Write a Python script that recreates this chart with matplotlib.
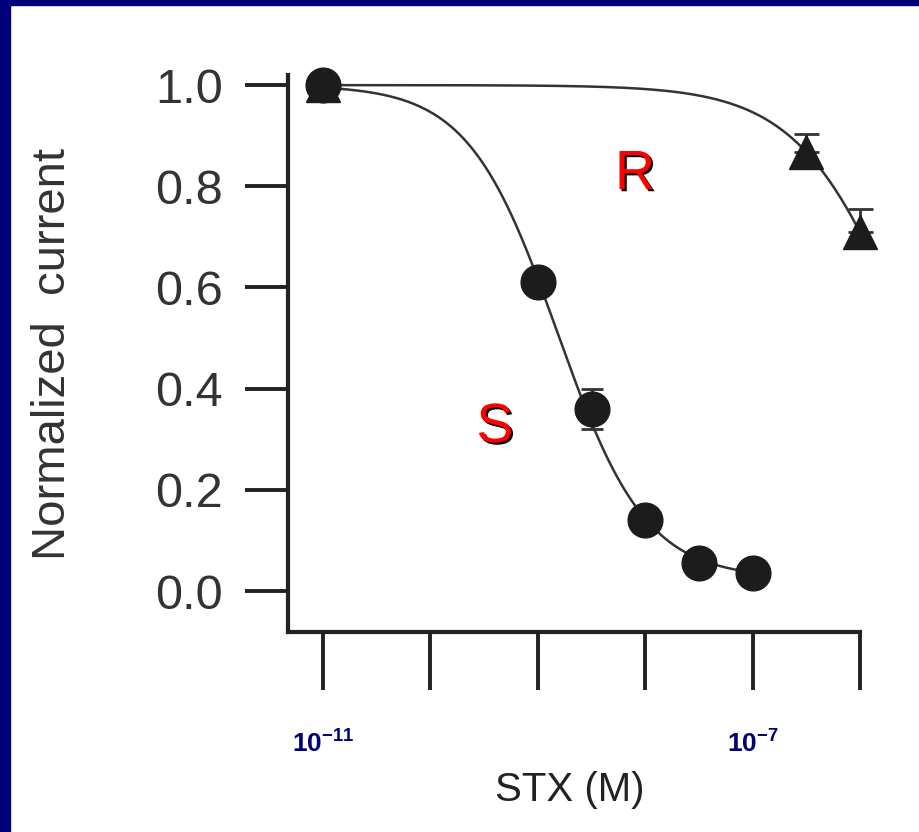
import numpy as np
import matplotlib
matplotlib.use("Agg")
import matplotlib.pyplot as plt
import matplotlib.patheffects as pe
from matplotlib.patches import Rectangle

plt.rcParams["font.family"] = ["Liberation Sans", "DejaVu Sans"]
plt.rcParams["mathtext.fontset"] = "custom"
plt.rcParams["mathtext.rm"] = "Liberation Sans"
plt.rcParams["mathtext.bf"] = "Liberation Sans:bold"

# ── Data (log10 of STX concentration, M) ──────────────────────────────────────
S_LOGC    = [-11, -9, -8.5, -8, -7.5, -7]
S_CURRENT = [1.0, 0.61, 0.36, 0.14, 0.055, 0.036]
S_ERR     = [0, 0, 0.04, 0, 0, 0]

R_LOGC     = [-11, -6.5, -6]
R_CURRENT  = [1.0, 0.868, 0.71]
R_ERR_UP   = [0, 0.035, 0.045]

# Hill fit parameters
S_FIT = {"log_ic50": -8.82, "slope": 1.05, "bottom": 0.025}
R_FIT = {"log_ic50": -5.55, "slope": 0.86, "bottom": 0.0}

X_TICKS       = [-11, -10, -9, -8, -7, -6]
X_TICK_LABELS = [r"$\mathbf{10^{-11}}$", "", "", "", r"$\mathbf{10^{-7}}$", ""]
Y_TICKS       = [0.0, 0.2, 0.4, 0.6, 0.8, 1.0]

NAVY = "#000078"
INK  = "#222222"


def hill(logc, p):
    return p["bottom"] + (1 - p["bottom"]) / (1 + 10 ** (p["slope"] * (logc - p["log_ic50"])))


fig = plt.figure(figsize=(9.2, 8.32), dpi=100)
fig.patches.append(Rectangle((0, 1 - 5 / 832), 1, 5 / 832, transform=fig.transFigure,
                             color=NAVY, zorder=10))
fig.patches.append(Rectangle((0, 0), 10 / 920, 1, transform=fig.transFigure,
                             color=NAVY, zorder=10))

ax = fig.add_axes([288 / 920, 200 / 832, 572 / 920, 557 / 832])
ax.set_xscale("log")

# fitted curves
xs = np.linspace(S_LOGC[0], S_LOGC[-1], 300)
ax.plot(10.0 ** xs, hill(xs, S_FIT), color="#333333", lw=1.8, zorder=2)
xr = np.linspace(R_LOGC[0], R_LOGC[-1], 300)
ax.plot(10.0 ** xr, hill(xr, R_FIT), color="#333333", lw=1.8, zorder=2, clip_on=False)

# data points
ax.errorbar(10.0 ** np.array(S_LOGC), S_CURRENT, yerr=S_ERR, fmt="o", ms=25,
            color="#1c1c1c", ecolor="#333333", elinewidth=2, capsize=8, capthick=2,
            zorder=3, clip_on=False)
ax.errorbar(10.0 ** np.array(R_LOGC), R_CURRENT,
            yerr=[np.zeros(len(R_ERR_UP)), R_ERR_UP], fmt="^", ms=24,
            color="#1c1c1c", ecolor="#333333", elinewidth=2, capsize=9, capthick=2,
            zorder=3, clip_on=False)

# R / S labels, red with black shadow
shadow = [pe.SimplePatchShadow(offset=(1.5, -1.5), shadow_rgbFace="black", alpha=1.0),
          pe.Normal()]
ax.text(10 ** -8.095, 0.822, "R", color="#ff0000", fontsize=40, ha="center",
        va="center", path_effects=shadow)
ax.text(10 ** -9.40, 0.322, "S", color="#ff0000", fontsize=40, ha="center",
        va="center", path_effects=shadow)

# axes styling
ax.set_xlim(10 ** -11.326, 1e-6)
ax.set_ylim(-0.081, 1.02)
ax.minorticks_off()
ax.set_xticks(10.0 ** np.array(X_TICKS))
ax.set_xticklabels(X_TICK_LABELS)
ax.set_yticks(Y_TICKS)
ax.set_yticklabels([f"{v:.1f}" for v in Y_TICKS])

for side in ("top", "right"):
    ax.spines[side].set_visible(False)
for side in ("left", "bottom"):
    ax.spines[side].set_linewidth(3)
    ax.spines[side].set_color(INK)

ax.tick_params(axis="x", direction="out", length=42, width=2.8, color=INK,
               pad=29, labelsize=19, labelcolor=NAVY)
ax.tick_params(axis="y", direction="out", length=31, width=2.8, color=INK,
               pad=16, labelsize=35, labelcolor="#333333")

ax.set_ylabel("Normalized  current", fontsize=34, color="#333333")
ax.yaxis.set_label_coords(-0.372, 0.5)
ax.set_xlabel("STX (M)", fontsize=29, color=INK, va="center")
ax.xaxis.set_label_coords(0.493, -0.284)

fig.savefig("out.png", dpi=100, facecolor="white")
